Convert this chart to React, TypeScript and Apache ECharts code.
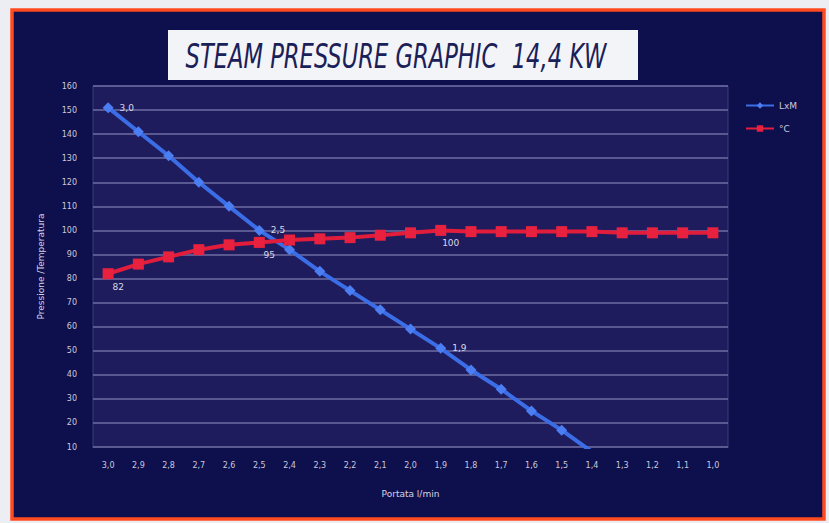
import React, { useEffect, useRef } from "react";
import * as echarts from "echarts";

const categories = ["3,0","2,9","2,8","2,7","2,6","2,5","2,4","2,3","2,2","2,1","2,0","1,9","1,8","1,7","1,6","1,5","1,4","1,3","1,2","1,1","1,0"];
const lxmValues: (number | null)[] = [151, 141, 131, 120, 110, 100, 92, 83, 75, 67, 59, 51, 42, 34, 25, 17, 8, null, null, null, null];
const tempValues = [82, 86, 89, 92, 94, 95, 96, 96.5, 97, 98, 99, 100, 99.5, 99.5, 99.5, 99.5, 99.5, 99, 99, 99, 99];
const lxmLabelIdx = [0, 5, 11];
const tempLabelIdx = [0, 5, 11];

export default function App() {
  const ref = useRef<HTMLDivElement>(null);
  useEffect(() => {
    if (!ref.current) return;
    const chart = echarts.init(ref.current, null, { renderer: "svg" });
    chart.setOption({
      animation: false,
      backgroundColor: "#eceef3",
      graphic: [
        {
          type: "rect",
          z: -10,
          shape: { x: 12, y: 10, width: 812, height: 509 },
          style: { fill: "#0e104e", stroke: "#ff4b1f", lineWidth: 3.5 },
          silent: true,
        },
        {
          type: "rect",
          shape: { x: 168, y: 30, width: 470, height: 50 },
          style: { fill: "#f3f4f7" },
        },
        {
          type: "text",
          x: 396,
          y: 56,
          scaleX: 0.74,
          style: {
            text: "STEAM PRESSURE GRAPHIC  14,4 KW",
            fill: "#1a2058",
            font: "italic 34px 'DejaVu Sans Condensed', 'DejaVu Sans', sans-serif",
            textAlign: "center",
            textVerticalAlign: "middle",
          },
        },
      ],
      legend: {
        orient: "vertical",
        left: 740,
        top: 96,
        itemGap: 14,
        itemWidth: 28,
        itemHeight: 8,
        textStyle: { color: "#c9c9dc", fontSize: 9, fontFamily: "DejaVu Sans" },
        data: ["LxM", "°C"],
      },
      grid: {
        left: 93,
        right: 101,
        top: 86,
        bottom: 76,
        show: true,
        backgroundColor: "#1f1c5e",
        borderColor: "#3a3a78",
        borderWidth: 1,
      },
      xAxis: {
        type: "category",
        data: categories,
        boundaryGap: true,
        name: "Portata l/min",
        nameLocation: "middle",
        nameGap: 42,
        nameTextStyle: { color: "#d4d4e4", fontSize: 9, fontFamily: "DejaVu Sans" },
        axisLine: { show: true, lineStyle: { color: "#5a5a90" } },
        axisTick: { show: false },
        axisLabel: { color: "#c9c9dc", fontSize: 8, margin: 14, fontFamily: "DejaVu Sans" },
      },
      yAxis: {
        type: "value",
        min: 10,
        max: 160,
        interval: 10,
        name: "Pressione /Temperatura",
        nameLocation: "middle",
        nameGap: 48,
        nameTextStyle: { color: "#d4d4e4", fontSize: 9, fontFamily: "DejaVu Sans" },
        axisLine: { show: false },
        axisTick: { show: false },
        axisLabel: { color: "#c9c9dc", fontSize: 8, margin: 16, fontFamily: "DejaVu Sans" },
        splitLine: { lineStyle: { color: "#6e6da2", width: 1.5 } },
      },
      series: [
        {
          name: "LxM",
          type: "line",
          data: lxmValues,
          clip: true,
          symbol: "diamond",
          symbolSize: 11,
          lineStyle: { color: "#3b6ee6", width: 4 },
          itemStyle: { color: "#4a7ef2" },
          label: {
            show: true,
            position: "right",
            distance: 6,
            color: "#d8d8e8",
            fontSize: 9,
            fontFamily: "DejaVu Sans",
            formatter: (p: any) => (lxmLabelIdx.includes(p.dataIndex) ? categories[p.dataIndex] : ""),
          },
          z: 3,
        },
        {
          name: "°C",
          type: "line",
          data: tempValues,
          symbol: "rect",
          symbolSize: 11,
          lineStyle: { color: "#e21d3c", width: 4 },
          itemStyle: { color: "#e8213f" },
          label: {
            show: true,
            position: "bottom",
            offset: [10, -2],
            color: "#d8d8e8",
            fontSize: 9,
            fontFamily: "DejaVu Sans",
            formatter: (p: any) => (tempLabelIdx.includes(p.dataIndex) ? String(p.value) : ""),
          },
          z: 4,
        },
      ],
    });
    return () => chart.dispose();
  }, []);
  return <div ref={ref} style={{ position: "fixed", left: 0, top: 0, width: 829, height: 523 }} />;
}
